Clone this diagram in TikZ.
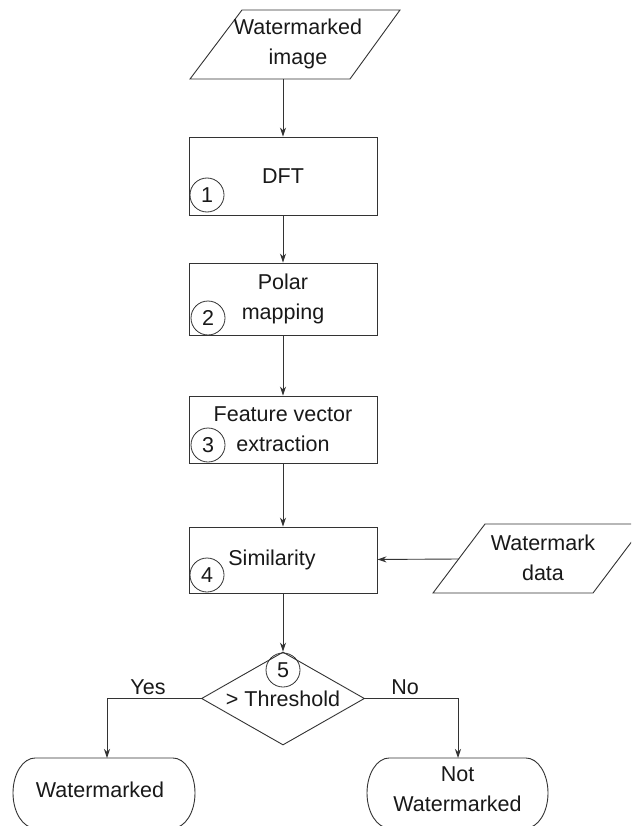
\documentclass[tikz,border=0pt]{standalone}
\usepackage{fontspec}
\setmainfont{Liberation Sans}
\usetikzlibrary{shapes.geometric,arrows.meta}
\begin{document}
\begin{tikzpicture}[x=1pt,y=-1pt,
  ink/.style={draw=black!80,line width=0.9pt},
  arr/.style={ink,-{Stealth[length=9pt,width=6pt]}},
  txt/.style={font=\fontsize{21.5}{30}\selectfont,text=black!90,align=center,inner sep=0pt},
  stepbox/.style={rectangle,ink,txt,minimum width=188pt},
  num/.style={circle,ink,line width=0.8pt,minimum size=34pt,inner sep=0pt,txt},
  decision/.style={diamond,ink,txt,aspect=1.75,minimum width=163pt,minimum height=93pt}
]
\useasboundingbox (0,0) rectangle (631,826);
\fill[white] (0,0) rectangle (631,826);
\clip (0,0) rectangle (631,826);

% input: watermarked image
\draw[ink] (190,79) -- (350,79) -- (400,10) -- (242,10) -- cycle;
\node[txt] (img) at (298,44) {Watermarked\\image};
\coordinate (imgout) at (283,79);

% processing steps
\node[stepbox,minimum height=78pt] (dft)   at (283,176)   {DFT};
\node[stepbox,minimum height=72pt] (polar) at (283,299)   {Polar\\mapping};
\node[stepbox,minimum height=67pt] (feat)  at (283,429.5) {Feature vector\\extraction};
\node[stepbox,minimum height=66pt] (sim)   at (283,560)   {\hspace*{-22pt}Similarity};

% step numbers
\node[num] (n1) at (207,195) {1};
\node[num] (n2) at (208,318) {2};
\node[num] (n3) at (208,445) {3};
\node[num] (n4) at (207,575) {4};

% input: watermark data
\draw[ink] (433,593) -- (593,593) -- (645,524) -- (485,524) -- cycle;
\node[txt] (wdata) at (543,558) {Watermark\\data};
\coordinate (wdout) at (459,559);

% decision
\node[decision] (dec) at (283,698.5) {> Threshold};
\node[num] (n5) at (283,670) {5};

% terminals
\draw[ink] (35,758) -- (173,758)
  .. controls (185.1,758) and (195,773.75) .. (195,793)
  .. controls (195,812.25) and (185.1,828) .. (173,828)
  -- (35,828)
  .. controls (22.9,828) and (13,812.25) .. (13,793)
  .. controls (13,773.75) and (22.9,758) .. (35,758) -- cycle;
\node[txt] (yesend) at (100,790) {Watermarked};
\coordinate (yestop) at (107,758);

\draw[ink] (389,758) -- (526,758)
  .. controls (538.1,758) and (548,773.75) .. (548,793)
  .. controls (548,812.25) and (538.1,828) .. (526,828)
  -- (389,828)
  .. controls (376.9,828) and (367,812.25) .. (367,793)
  .. controls (367,773.75) and (376.9,758) .. (389,758) -- cycle;
\node[txt] (noend) at (457.5,789) {Not\\Watermarked};
\coordinate (notop) at (458,758);

% connectors
\draw[arr] (imgout) -- (dft);
\draw[arr] (dft) -- (polar);
\draw[arr] (polar) -- (feat);
\draw[arr] (feat) -- (sim);
\draw[arr] (wdout) -- (sim);
\draw[arr] (sim) -- (dec);
\draw[arr] (dec.west) -| (yestop);
\draw[arr] (dec.east) -| (notop);

% branch labels
\node[txt] (yes) at (148,687) {Yes};
\node[txt] (no)  at (405,687) {No};
\end{tikzpicture}
\end{document}
